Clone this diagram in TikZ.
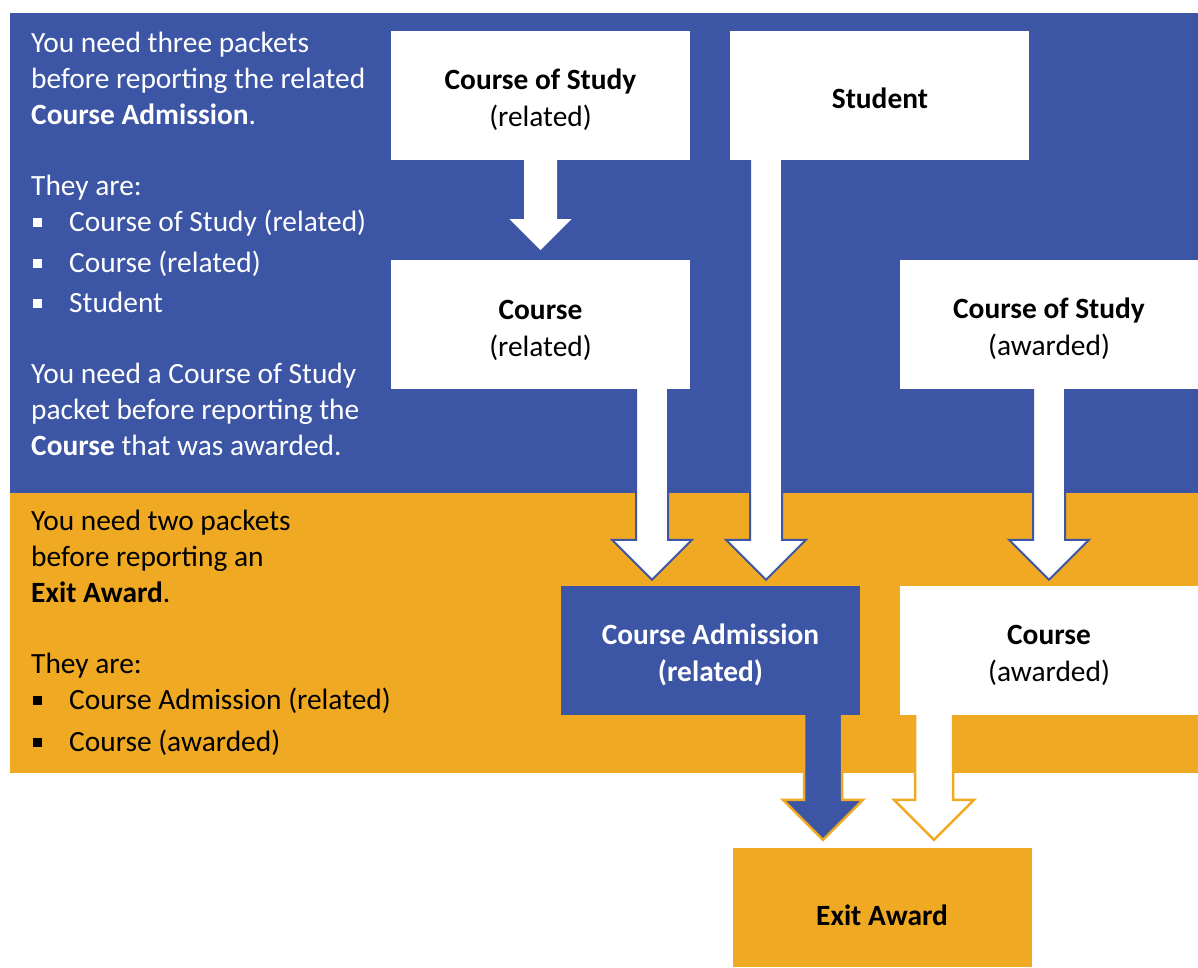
\documentclass[tikz,border=0pt]{standalone}
\usepackage{fontspec}
\setmainfont{Carlito}
\usetikzlibrary{calc,positioning}
\definecolor{packetblue}{RGB}{60,85,165}
\definecolor{packetorange}{RGB}{240,169,34}
\pgfdeclarelayer{bands}
\pgfdeclarelayer{arrows}
\pgfsetlayers{bands,arrows,main}
\newcommand\bodyfont{\fontsize{29.4}{35.8}\selectfont}
\newcommand\boxfont{\fontsize{29.4}{37}\selectfont}
\newcommand\sqbullet{\makebox[36pt][l]{\rule[4.5pt]{8.5pt}{8.5pt}}}
\newcommand\topstrut[1][30pt]{\rule{0pt}{#1}}
% block arrow: [style]{from}{to}{half shaft}{half head}
\newcommand\blockarrow[5][]{%
  \path[#1] let \p1=(#2), \p2=(#3) in
    (\x2-#4,\y1+2pt) -- (\x2-#4,\y2+#5) -- (\x2-#5,\y2+#5) -- (\x2,\y2)
    -- (\x2+#5,\y2+#5) -- (\x2+#4,\y2+#5) -- (\x2+#4,\y1+2pt) -- cycle;}
\tikzset{
  packet/.style={fill=white,minimum width=299pt,minimum height=129pt,
    inner sep=0pt,align=center,font=\boxfont},
  note/.style={anchor=base west,inner sep=0pt,align=left,font=\bodyfont},
  bluearrow/.style={fill=white,draw=packetblue,line width=2pt,line join=miter},
  orangearrow/.style={draw=packetorange,line width=2.5pt,line join=miter}
}
\begin{document}
\begin{tikzpicture}[x=1pt,y=-1pt]
  \useasboundingbox (0,0) rectangle (1198,967);
  \begin{pgfonlayer}{bands}
    \fill[packetblue] (10,13) rectangle (1198,493);
    \fill[packetorange] (10,493) rectangle (1198,773);
  \end{pgfonlayer}

  % left hand notes (base = last line)
  \node[note,text=white] (threetxt) at (31,124)
    {You need three packets\\before reporting the related\\\textbf{Course Admission}.};
  \node[note,text=white] (theyare1) at (31,195) {They are:};
  \foreach \y/\txt [count=\i] in {231/Course of Study (related),272/Course (related),312/Student}
    \node[note,text=white] (bluebul\i) at (33,\y) {\sqbullet\txt};
  \node[note,text=white] (onetxt) at (31,455)
    {You need a Course of Study\\packet before reporting the\\\textbf{Course} that was awarded.};
  \node[note] (twotxt) at (31,602)
    {You need two packets\\before reporting an\\\textbf{Exit Award}.};
  \node[note] (theyare2) at (31,673) {They are:};
  \foreach \y/\txt [count=\i] in {709/Course Admission (related),751/Course (awarded)}
    \node[note] (orangebul\i) at (33,\y) {\sqbullet\txt};

  % packets
  \node[packet] (cosrel) at (540.5,95.5) {\topstrut\textbf{Course of Study}\\(related)};
  \node[packet,right=40pt of cosrel] (stu) {\topstrut[27pt]\textbf{Student}};
  \node[packet,below=100pt of cosrel] (crsrel) {\topstrut\textbf{Course}\\(related)};
  \node[packet] (cosawd) at (1049,324.5) {\topstrut\textbf{Course of Study}\\(awarded)};
  \node[packet,fill=packetblue,text=white] (cadm) at (710.5,650.5)
    {\topstrut\textbf{Course Admission}\\\textbf{(related)}};
  \node[packet] (crsawd) at (1049,650.5) {\topstrut\textbf{Course}\\(awarded)};
  \node[packet,fill=packetorange,minimum height=119pt] (exit) at (882,907.5)
    {\topstrut[36pt]\textbf{Exit Award}};

  % arrows
  \begin{pgfonlayer}{arrows}
    \blockarrow[bluearrow,draw=none]{cosrel.south}{[yshift=10pt]crsrel.north}{16.5pt}{31pt}
    \blockarrow[bluearrow]{crsrel.south}{[xshift=-58.5pt,yshift=6pt]cadm.north}{16pt}{40pt}
    \blockarrow[bluearrow]{stu.south}{[xshift=55.5pt,yshift=6pt]cadm.north}{16pt}{40pt}
    \blockarrow[bluearrow]{cosawd.south}{[yshift=6pt]crsawd.north}{16pt}{40pt}
    \blockarrow[orangearrow,fill=packetblue]{cadm.south}{[xshift=-59pt,yshift=8pt]exit.north}{19pt}{40pt}
    \blockarrow[orangearrow,fill=white]{crsawd.south}{[xshift=52pt,yshift=8pt]exit.north}{19pt}{40pt}
  \end{pgfonlayer}
\end{tikzpicture}
\end{document}
